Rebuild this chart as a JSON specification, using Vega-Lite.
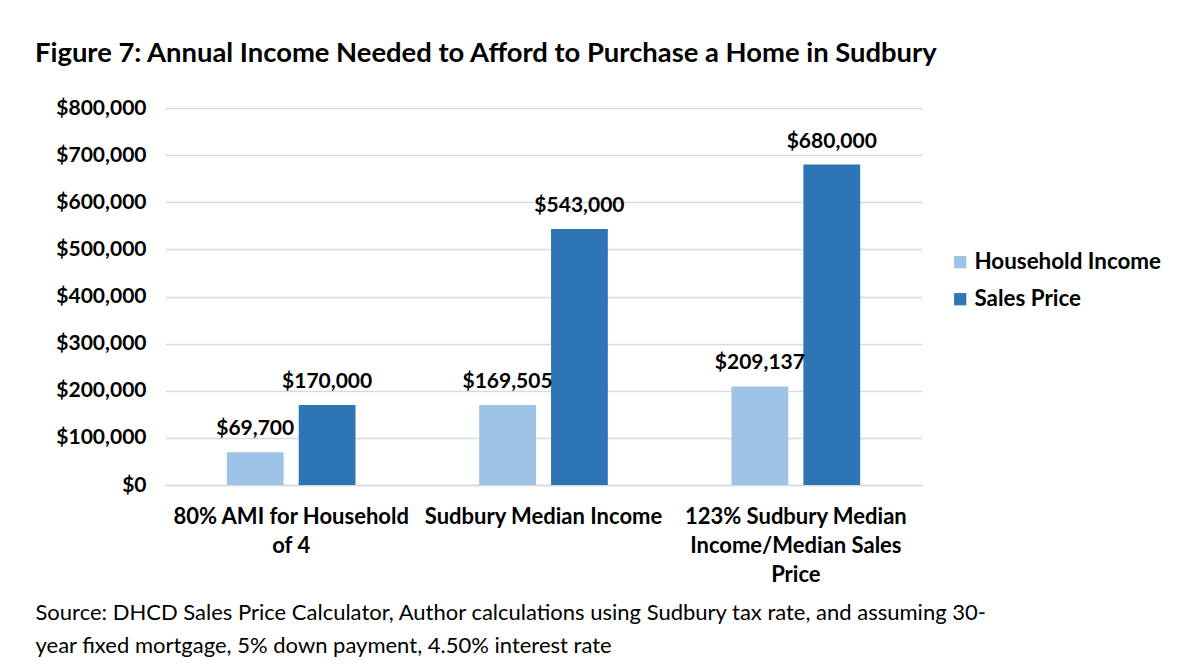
{
  "$schema": "https://vega.github.io/schema/vega-lite/v6.json",
  "width": 757,
  "height": 377,
  "autosize": {"type": "none"},
  "padding": {"left": 165, "top": 108, "right": 262, "bottom": 179},
  "background": "white",
  "config": {
    "font": "Lato",
    "view": {"stroke": null}
  },
  "title": {
    "text": "Figure 7: Annual Income Needed to Afford to Purchase a Home in Sudbury",
    "anchor": "start",
    "frame": "group",
    "dx": -130,
    "offset": 8,
    "baseline": "alphabetic",
    "font": "Lato",
    "fontSize": 27.4,
    "fontWeight": "bold",
    "color": "#000000"
  },
  "data": {
    "values": [
      {"group": "80% AMI for Household of 4", "series": "Household Income", "value": 69700},
      {"group": "80% AMI for Household of 4", "series": "Sales Price", "value": 170000},
      {"group": "Sudbury Median Income", "series": "Household Income", "value": 169505},
      {"group": "Sudbury Median Income", "series": "Sales Price", "value": 543000},
      {"group": "123% Sudbury Median Income/Median Sales Price", "series": "Household Income", "value": 209137},
      {"group": "123% Sudbury Median Income/Median Sales Price", "series": "Sales Price", "value": 680000}
    ]
  },
  "encoding": {
    "x": {
      "field": "group",
      "type": "nominal",
      "sort": null,
      "scale": {"paddingInner": 0.49, "paddingOuter": 0.245},
      "axis": {
        "title": ["Source: DHCD Sales Price Calculator, Author calculations using Sudbury tax rate, and assuming 30-", "year fixed mortgage, 5% down payment, 4.50% interest rate"],
        "titleAnchor": "start",
        "titleAlign": "left",
        "titleBaseline": "alphabetic",
        "titleX": -130,
        "titleY": 134,
        "titleFont": "Lato",
        "titleFontSize": 22,
        "titleFontWeight": "normal",
        "titleColor": "#000000",
        "titleLineHeight": 33,
        "labelAngle": 0,
        "labelExpr": "datum.value == '80% AMI for Household of 4' ? ['80% AMI for Household', 'of 4'] : datum.value == 'Sudbury Median Income' ? ['Sudbury Median Income'] : ['123% Sudbury Median', 'Income/Median Sales', 'Price']",
        "labelFont": "Lato",
        "labelFontSize": 22,
        "labelFontWeight": "bold",
        "labelColor": "#000000",
        "labelLineHeight": 29,
        "labelPadding": 21,
        "labelLimit": 0,
        "ticks": false,
        "domainColor": "#d9d9d9",
        "domainWidth": 1.5
      }
    },
    "xOffset": {
      "field": "series",
      "type": "nominal",
      "scale": {"paddingInner": 0.21, "paddingOuter": 0}
    },
    "y": {
      "field": "value",
      "type": "quantitative",
      "scale": {"domain": [0, 800000]},
      "axis": {
        "title": null,
        "values": [0, 100000, 200000, 300000, 400000, 500000, 600000, 700000, 800000],
        "format": "$,.0f",
        "labelFont": "Lato",
        "labelFontSize": 21,
        "labelFontWeight": "bold",
        "labelColor": "#000000",
        "labelPadding": 19,
        "ticks": false,
        "domain": false,
        "gridColor": "#d9d9d9",
        "gridWidth": 1.5
      }
    }
  },
  "layer": [
    {
      "mark": {"type": "bar"},
      "encoding": {
        "color": {
          "field": "series",
          "type": "nominal",
          "scale": {"domain": ["Household Income", "Sales Price"], "range": ["#9dc3e6", "#2e75b6"]},
          "legend": {
            "title": null,
            "orient": "none",
            "legendX": 784,
            "legendY": 143,
            "symbolType": "square",
            "symbolSize": 150,
            "symbolStrokeWidth": 0,
            "labelFont": "Lato",
            "labelFontSize": 22.4,
            "labelFontWeight": "bold",
            "labelColor": "#000000",
            "rowPadding": 14,
            "labelOffset": 3,
            "labelLimit": 0
          }
        }
      }
    },
    {
      "mark": {"type": "text", "baseline": "alphabetic", "dy": -17, "font": "Lato", "fontSize": 21, "fontWeight": "bold", "color": "#000000"},
      "encoding": {
        "text": {"field": "value", "type": "quantitative", "format": "$,.0f"}
      }
    }
  ]
}
